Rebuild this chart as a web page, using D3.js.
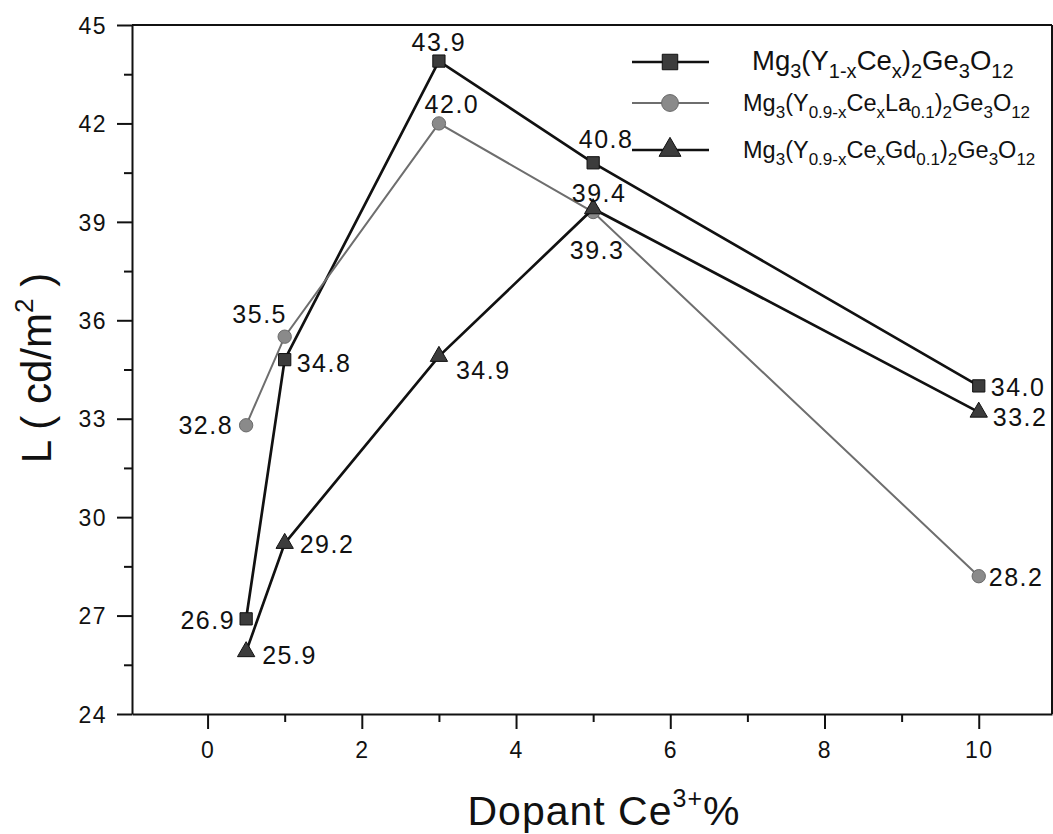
<!DOCTYPE html>
<html>
<head>
<meta charset="utf-8">
<script src="https://cdn.jsdelivr.net/npm/d3@7"></script>
<style>
  body { margin: 0; background: #fff; }
  text { font-family: Arial, "Liberation Sans", sans-serif; fill: #111; }
</style>
</head>
<body>
<svg width="1053" height="834"></svg>
<script>
// dopant concentration (Ce3+ %)
var xValues = [0.5, 1, 3, 5, 10];
// luminance L (cd/m2) for each composition
var yPlain = [26.9, 34.8, 43.9, 40.8, 34.0];      // Mg3(Y1-xCex)2Ge3O12
var yLa = [32.8, 35.5, 42.0, 39.3, 28.2];         // Mg3(Y0.9-xCexLa0.1)2Ge3O12
var yGd = [25.9, 29.2, 34.9, 39.4, 33.2];         // Mg3(Y0.9-xCexGd0.1)2Ge3O12

var xTicks = [0, 2, 4, 6, 8, 10];
var xMinor = [1, 3, 5, 7, 9];
var yTicks = [24, 27, 30, 33, 36, 39, 42, 45];
var yMinor = [25.5, 28.5, 31.5, 34.5, 37.5, 40.5, 43.5];

var svg = d3.select("svg");

var x = d3.scaleLinear().domain([-0.98, 10.95]).range([132, 1052]);
var y = d3.scaleLinear().domain([24, 45]).range([714, 25]);

// frame: top and right lines
svg.append("line").attr("x1", x.range()[0]).attr("x2", x.range()[1])
  .attr("y1", y(45)).attr("y2", y(45)).attr("stroke", "#111").attr("stroke-width", 2);
svg.append("line").attr("x1", x.range()[1]).attr("x2", x.range()[1])
  .attr("y1", y(45)).attr("y2", y(24)).attr("stroke", "#111").attr("stroke-width", 2);

// bottom axis
var gx = svg.append("g").attr("transform", "translate(0," + y(24) + ")");
gx.call(d3.axisBottom(x).tickValues(xTicks).tickSize(15).tickSizeOuter(0).tickPadding(13));
gx.append("g").call(d3.axisBottom(x).tickValues(xMinor).tickSize(8).tickFormat(""))
  .select(".domain").remove();

// left axis
var gy = svg.append("g").attr("transform", "translate(" + x.range()[0] + ",0)");
gy.call(d3.axisLeft(y).tickValues(yTicks).tickSize(15).tickSizeOuter(0).tickPadding(10));
gy.append("g").call(d3.axisLeft(y).tickValues(yMinor).tickSize(8).tickFormat(""))
  .select(".domain").remove();

svg.selectAll(".domain").attr("stroke", "#111").attr("stroke-width", 2);
svg.selectAll(".tick line").attr("stroke", "#111").attr("stroke-width", 2);
gx.selectAll(".tick text").attr("font-size", "23px").attr("letter-spacing", "1.5px").attr("fill", "#111");
gy.selectAll(".tick text").attr("font-size", "23px").attr("letter-spacing", "1.5px")
  .attr("dy", "0.36em").attr("fill", "#111");

// axis titles
var xt = svg.append("text")
  .attr("x", 604).attr("y", 825)
  .attr("text-anchor", "middle")
  .attr("font-size", "41px")
  .attr("letter-spacing", "1px");
xt.append("tspan").text("Dopant Ce");
xt.append("tspan").attr("font-size", "25px").attr("dy", -18).text("3+");
xt.append("tspan").attr("dy", 18).text("%");

var yt = svg.append("text")
  .attr("transform", "translate(51,368) rotate(-90)")
  .attr("text-anchor", "middle")
  .attr("font-size", "42px");
yt.append("tspan").text("L ( cd/m");
yt.append("tspan").attr("font-size", "26px").attr("dy", -18).text("2");
yt.append("tspan").attr("dy", 18).text(" )");

// series
var series = [
  { name: "plain", values: yPlain, symbol: d3.symbolSquare, size: 150, fill: "#3c3c3c", stroke: "#111", line: "#111", width: 2.7 },
  { name: "La", values: yLa, symbol: d3.symbolCircle, size: 140, fill: "#8a8a8a", stroke: "#6a6a6a", line: "#6e6e6e", width: 2 },
  { name: "Gd", values: yGd, symbol: d3.symbolTriangle, size: 130, fill: "#3c3c3c", stroke: "#111", line: "#111", width: 2.7 }
];

// label placement per point: [anchor, dx, dy]
var labelPos = {
  plain: [["end", -11, 10], ["start", 12, 12], ["middle", 0, -10], ["middle", 13, -15], ["start", 12, 10]],
  La: [["end", -13, 9], ["middle", -25, -14], ["middle", 13, -10], ["middle", 4, 47], ["start", 10, 10]],
  Gd: [["start", 16, 12], ["start", 15, 10], ["start", 17, 23], ["middle", 6, -7], ["start", 14, 14]]
};

var line = d3.line()
  .x(function(d) { return x(d[0]); })
  .y(function(d) { return y(d[1]); });

series.forEach(function(s) {
  var pts = xValues.map(function(v, i) { return [v, s.values[i]]; });

  svg.append("path")
    .datum(pts)
    .attr("d", line)
    .attr("fill", "none")
    .attr("stroke", s.line)
    .attr("stroke-width", s.width);

  svg.selectAll(".m-" + s.name)
    .data(pts)
    .enter().append("path")
    .attr("class", "m-" + s.name)
    .attr("transform", function(d) { return "translate(" + x(d[0]) + "," + y(d[1]) + ")"; })
    .attr("d", d3.symbol().type(s.symbol).size(s.size))
    .attr("fill", s.fill)
    .attr("stroke", s.stroke)
    .attr("stroke-width", 1);

  svg.selectAll(".l-" + s.name)
    .data(pts)
    .enter().append("text")
    .attr("class", "l-" + s.name)
    .attr("x", function(d, i) { return x(d[0]) + labelPos[s.name][i][1]; })
    .attr("y", function(d, i) { return y(d[1]) + labelPos[s.name][i][2]; })
    .attr("text-anchor", function(d, i) { return labelPos[s.name][i][0]; })
    .attr("font-size", "25px")
    .attr("letter-spacing", "1.5px")
    .text(function(d) { return d[1].toFixed(1); });
});

// legend
var legendRows = [
  [["Mg"], ["3", 1], ["(Y"], ["1-x", 1], ["Ce"], ["x", 1], [")"], ["2", 1], ["Ge"], ["3", 1], ["O"], ["12", 1]],
  [["Mg"], ["3", 1], ["(Y"], ["0.9-x", 1], ["Ce"], ["x", 1], ["La"], ["0.1", 1], [")"], ["2", 1], ["Ge"], ["3", 1], ["O"], ["12", 1]],
  [["Mg"], ["3", 1], ["(Y"], ["0.9-x", 1], ["Ce"], ["x", 1], ["Gd"], ["0.1", 1], [")"], ["2", 1], ["Ge"], ["3", 1], ["O"], ["12", 1]]
];
var legendY = [62, 103, 150];
var legendFont = [27.5, 23.5, 23.5];
var legendTextX = [752, 743, 743];

series.forEach(function(s, i) {
  var lg = svg.append("g").attr("transform", "translate(0," + legendY[i] + ")");
  lg.append("line").attr("x1", 632).attr("x2", 709).attr("y1", 0).attr("y2", 0)
    .attr("stroke", s.line).attr("stroke-width", s.width);
  lg.append("path")
    .attr("transform", "translate(670,0)")
    .attr("d", d3.symbol().type(s.symbol).size(s.size * 1.6))
    .attr("fill", s.fill).attr("stroke", s.stroke).attr("stroke-width", 1);

  var t = lg.append("text")
    .attr("x", legendTextX[i])
    .attr("y", 8)
    .attr("font-size", legendFont[i] + "px");
  var subShift = Math.round(legendFont[i] * 0.3);
  var down = false;
  legendRows[i].forEach(function(part) {
    var isSub = part.length > 1;
    var dy = 0;
    if (isSub && !down) { dy = subShift; down = true; }
    if (!isSub && down) { dy = -subShift; down = false; }
    var ts = t.append("tspan").attr("dy", dy).text(part[0]);
    if (isSub) ts.attr("font-size", Math.round(legendFont[i] * 0.72) + "px");
  });
});
</script>
</body>
</html>
